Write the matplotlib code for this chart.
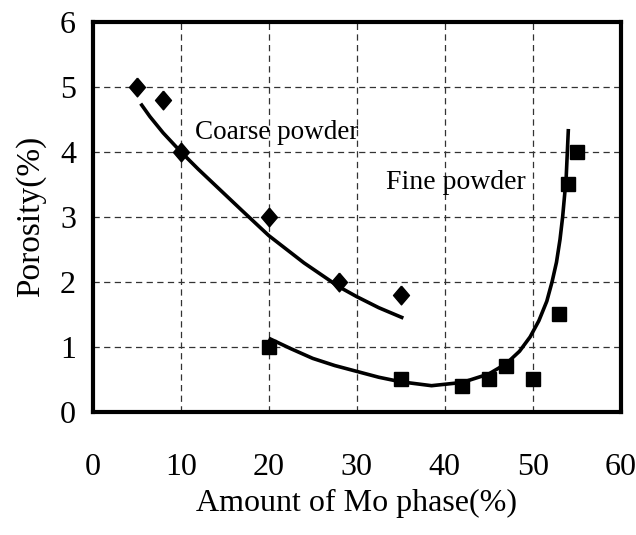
import matplotlib
matplotlib.use('Agg')
from matplotlib import pyplot as plt

# measured points
coarse_x = [5, 8, 10, 20, 28, 35]
coarse_y = [5.0, 4.8, 4.0, 3.0, 2.0, 1.8]
fine_x = [20, 35, 42, 45, 47, 50, 53, 54, 55]
fine_y = [1.0, 0.5, 0.4, 0.5, 0.7, 0.5, 1.5, 3.5, 4.0]

# trend curves
coarse_fit_x = [5.45, 6.5, 8, 10, 12, 14.5, 17, 20, 24, 28, 30, 32.5, 35.3]
coarse_fit_y = [4.74, 4.54, 4.29, 4.0, 3.73, 3.41, 3.09, 2.71, 2.29, 1.92, 1.77, 1.6, 1.44]
fine_fit_x = [20, 22.5, 25, 27.5, 30, 32.5, 35, 38.5, 42, 45, 47, 48.5, 49.7,
              50.7, 51.6, 52.2, 52.7, 53.1, 53.4, 53.8, 54.05]
fine_fit_y = [1.13, 0.97, 0.82, 0.71, 0.62, 0.53, 0.46, 0.40, 0.45, 0.58, 0.74, 0.93, 1.15,
              1.4, 1.7, 2.0, 2.3, 2.65, 3.0, 3.6, 4.35]

x_ticks = [0, 10, 20, 30, 40, 50, 60]
y_ticks = [0, 1, 2, 3, 4, 5, 6]

plt.rcParams['font.family'] = ['Liberation Serif', 'DejaVu Serif']

fig = plt.figure(figsize=(6.36, 5.35), dpi=100)
ax = fig.add_axes([0.1458, 0.2305, 0.8302, 0.7289])

# grid
for v in x_ticks[1:-1]:
    ax.axvline(v, color='#333333', lw=0.9, linestyle=(0, (5, 3.5)), zorder=1)
for v in y_ticks[1:-1]:
    ax.axhline(v, color='#333333', lw=0.9, linestyle=(0, (5, 3.5)), zorder=1)

# trend lines
ax.plot(coarse_fit_x, coarse_fit_y, color='black', lw=2.6, solid_capstyle='butt',
        solid_joinstyle='round', zorder=3)
ax.plot(fine_fit_x, fine_fit_y, color='black', lw=2.6, solid_capstyle='butt',
        solid_joinstyle='round', zorder=3)

# markers
diamond = [(0, 1), (0.85, 0), (0, -1), (-0.85, 0), (0, 1)]
ax.plot(coarse_x, coarse_y, linestyle='none', marker=diamond, ms=13.5,
        color='black', zorder=4)
ax.plot(fine_x, fine_y, linestyle='none', marker='s', ms=10.5,
        color='black', zorder=4)

ax.text(11.6, 4.3, 'Coarse powder', fontsize=19.5, va='center', ha='left', zorder=5)
ax.text(33.3, 3.52, 'Fine powder', fontsize=20, va='center', ha='left', zorder=5)

ax.set_xlim(0, 60)
ax.set_ylim(0, 6)
ax.set_xticks(x_ticks)
ax.set_yticks(y_ticks)
ax.tick_params(axis='both', length=0, labelsize=23)
ax.tick_params(axis='x', pad=30)
ax.tick_params(axis='y', pad=12)

for sp in ax.spines.values():
    sp.set_linewidth(3)

ax.set_xlabel('Amount of Mo phase(%)', fontsize=23, labelpad=5)
ax.set_ylabel('Porosity(%)', fontsize=24, labelpad=10)

plt.savefig('out.png', dpi=100)
